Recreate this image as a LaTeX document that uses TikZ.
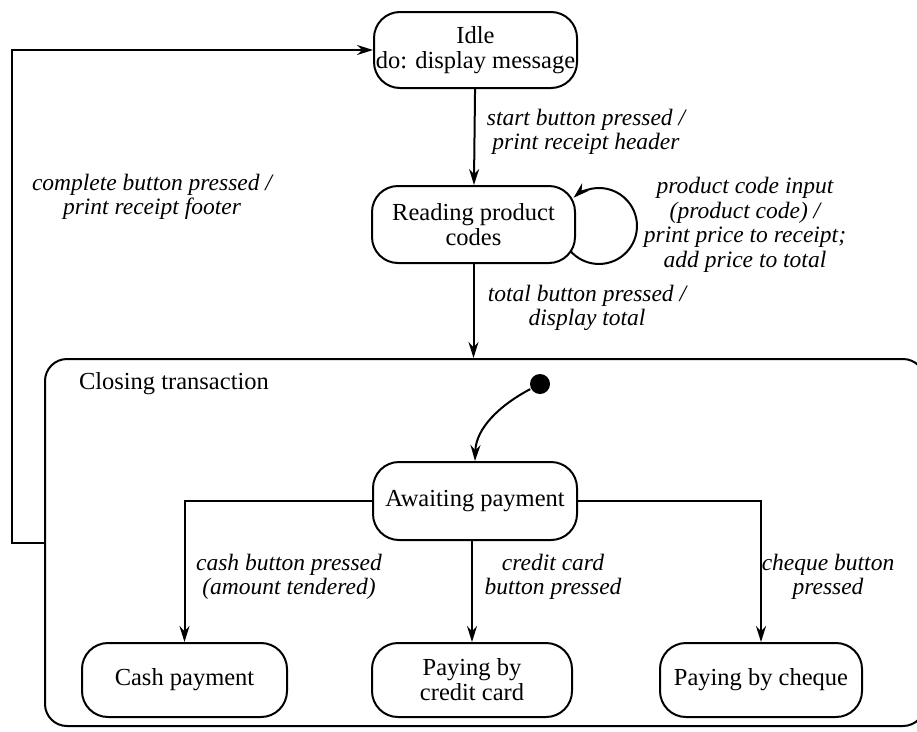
\documentclass[tikz,border=0pt]{standalone}
\usepackage{fontspec}
\setmainfont{Liberation Serif}
\usetikzlibrary{arrows.meta}
\newcommand\statetext{\fontsize{24.5}{25}\selectfont}
\newcommand\labeltext{\fontsize{23.5}{24.5}\selectfont\itshape}
\begin{document}
\begin{tikzpicture}[x=1pt,y=-1pt,
  line width=2pt,
  >={Stealth[length=16pt,width=10pt]},
  statebox/.style={draw, rounded corners=26pt, align=center, font=\statetext, inner sep=0pt},
  lbl/.style={align=center, font=\labeltext, inner sep=0pt},
  initdot/.style={circle, fill, inner sep=0pt, minimum size=20pt}]
  \useasboundingbox (0,0) rectangle (917,731);
  \clip (0,0) rectangle (917,731);

  % top-level states
  \node[statebox, minimum width=203pt, minimum height=76pt] (idle) at (475.5,50) {Idle\\do: display message};
  \node[statebox, minimum width=203pt, minimum height=77pt] (reading) at (473.5,224.5) {Reading product\\codes};

  % composite state
  \node[draw, rounded corners=22pt, minimum width=880pt, minimum height=367pt, anchor=north west, inner sep=0pt] (closing) at (44,358) {};
  \node[anchor=west, font=\statetext, inner sep=0pt] (closinglbl) at (78,384) {Closing transaction};

  % substates
  \node[initdot] (init) at (540,384) {};
  \node[statebox, minimum width=204pt, minimum height=78pt] (await) at (475,501) {Awaiting payment};
  \node[statebox, minimum width=205pt, minimum height=74pt] (cash) at (184.5,680) {Cash payment};
  \node[statebox, minimum width=200pt, minimum height=74pt] (credit) at (472,680) {Paying by\\credit card};
  \node[statebox, minimum width=202pt, minimum height=74pt] (cheque) at (761,680) {Paying by cheque};

  % transitions
  \draw[->] (idle) -- (reading);
  \draw[->] (reading) -- (reading |- closing.north);
  \draw[->] (570.3,250.9) arc[start angle=-221, end angle=-492, radius=38];
  \draw[->] (init) .. controls (500,405) and (476,428) .. (await.north);
  \draw[->] (await.west) -| (cash.north);
  \draw[->] (await.south -| credit.north) -- (credit.north);
  \draw[->] (await.east) -| (cheque.north);
  \coordinate (ret) at (12,543);
  \draw[->] (closing.west |- ret) -- (ret) |- (idle.west);

  % transition labels
  \node[lbl] (l1) at (586,132) {start button pressed /\\print receipt header};
  \node[lbl] (l2) at (745,225) {product code input\\(product code) /\\print price to receipt;\\add price to total};
  \node[lbl] (l3) at (587,308) {total button pressed /\\display total};
  \node[lbl] (l4) at (152,197) {complete button pressed /\\print receipt footer};
  \node[lbl] (l5) at (289,577) {cash button pressed\\(amount tendered)};
  \node[lbl] (l6) at (553,577) {credit card\\button pressed};
  \node[lbl] (l7) at (828,577) {cheque button\\pressed};
\end{tikzpicture}
\end{document}
